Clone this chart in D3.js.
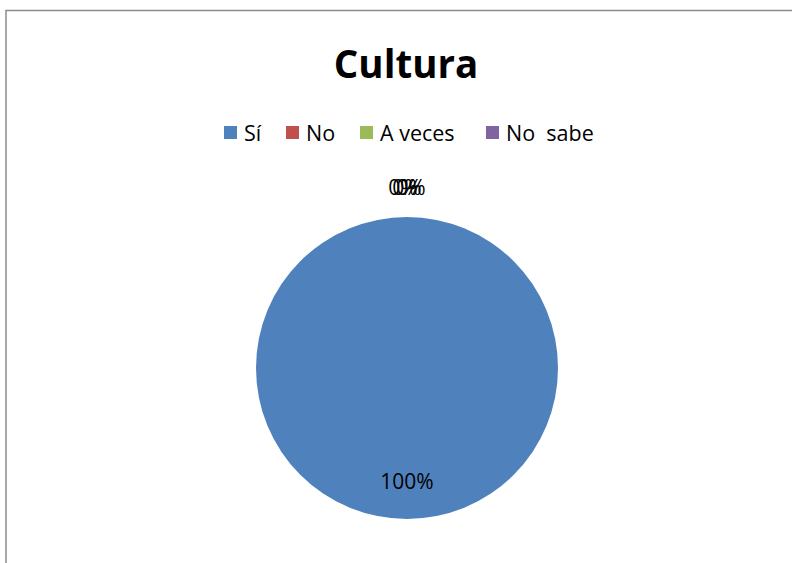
<!DOCTYPE html>
<html><head><meta charset="utf-8">
<script src="https://cdn.jsdelivr.net/npm/d3@7"></script>
<style>html,body{margin:0;padding:0;background:#fff;overflow:hidden}</style>
</head><body>
<script>
const title = "Cultura";
const categories = ["Sí", "No", "A veces", "No  sabe"];
const values = [100, 0, 0, 0];
const colors = ["#4F81BD", "#C0504D", "#9BBB59", "#8064A2"];
const labels = ["100%", "0%", "0%", "0%"];

const W = 792, H = 563;
const svg = d3.select("body").append("svg").attr("width", W).attr("height", H);
const font = "'Open Sans', Calibri, sans-serif";

// chart border
svg.append("rect").attr("x", 6).attr("y", 10.5).attr("width", 800).attr("height", 600)
  .attr("fill", "#fff").attr("stroke", "#8c8c8c").attr("stroke-width", 1.5);

svg.append("text").attr("x", 406).attr("y", 78).attr("text-anchor", "middle")
  .attr("font-family", font).attr("font-weight", "bold").attr("font-size", 38.5)
  .attr("fill", "#000").text(title);

// legend
const legX = [224, 286, 360, 486];
const lg = svg.append("g");
categories.forEach((c, i) => {
  lg.append("rect").attr("x", legX[i]).attr("y", 126).attr("width", 13).attr("height", 13).attr("fill", colors[i]);
  lg.append("text").attr("x", legX[i] + 20).attr("y", 141).attr("font-family", font)
    .attr("font-size", 21.5).attr("fill", "#000").style("white-space", "pre").attr("xml:space", "preserve").text(c);
});

const cx = 407, cy = 368, R = 151;
const pie = d3.pie().sort(null).value(d => d)(values);
const arc = d3.arc().innerRadius(0).outerRadius(R);
const g = svg.append("g").attr("transform", `translate(${cx},${cy})`);
g.selectAll("path").data(pie).join("path").attr("d", arc).attr("fill", (d, i) => colors[i]);

const inArc = d3.arc().innerRadius(R * 0.75).outerRadius(R * 0.75);
const outArc = d3.arc().innerRadius(R + 29).outerRadius(R + 29);
pie.forEach((d, i) => {
  let p;
  if (values[i] > 0) p = inArc.centroid(d);
  else { p = outArc.centroid(d); p[0] += (i - 2) * 4; }
  g.append("text").attr("x", p[0]).attr("y", p[1]).attr("dy", "0.35em").attr("text-anchor", "middle")
    .attr("font-family", font).attr("font-size", 21).attr("fill", "#000").text(labels[i]);
});
</script>
</body></html>
